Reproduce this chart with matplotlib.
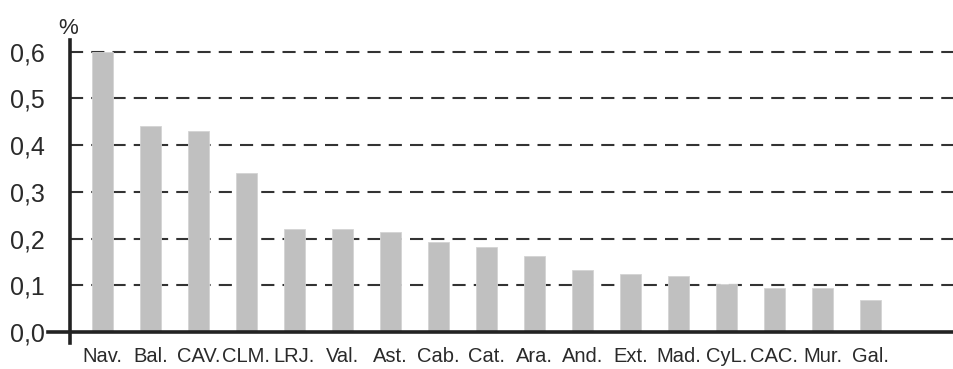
import numpy as np
import matplotlib
matplotlib.use('Agg')
import matplotlib.pyplot as plt

plt.rcParams['font.family'] = ['Liberation Sans', 'DejaVu Sans']

regions = ['Nav.', 'Bal.', 'CAV.', 'CLM.', 'LRJ.', 'Val.', 'Ast.', 'Cab.', 'Cat.',
           'Ara.', 'And.', 'Ext.', 'Mad.', 'CyL.', 'CAC.', 'Mur.', 'Gal.']
values = [0.60, 0.44, 0.43, 0.34, 0.22, 0.22, 0.215, 0.193, 0.181,
          0.163, 0.133, 0.125, 0.12, 0.103, 0.095, 0.095, 0.069]
yticks = [0.0, 0.1, 0.2, 0.3, 0.4, 0.5, 0.6]
ytick_labels = ['0,0', '0,1', '0,2', '0,3', '0,4', '0,5', '0,6']

txt = '#2a2a2a'

fig = plt.figure(figsize=(9.54, 3.69), dpi=100)
ax = fig.add_axes([70/954, 1-343/369, 884/954, 303/369])

x = np.arange(len(regions))
ax.bar(x, values, width=0.44, color='#c0c0c0', edgecolor='#d4d4d4', linewidth=0.6, zorder=3)

# dashed grid
for v in yticks[1:]:
    ax.axhline(v, color='#333333', linewidth=1.5, dashes=(6.3, 3.9), zorder=1)
# baseline sticks out a bit to the left
ax.axhline(0, xmin=-0.025, xmax=1, color='#222222', linewidth=2.6, clip_on=False, zorder=4)

ax.set_xlim(-0.677, 17.74)
ax.set_ylim(-0.0236, 0.625)

ax.set_yticks(yticks)
ax.set_yticklabels(ytick_labels)
ax.set_xticks(x)
ax.set_xticklabels(regions)
ax.tick_params(axis='y', length=0, pad=18, labelsize=18, labelcolor=txt)
ax.tick_params(axis='x', length=0, pad=3, labelsize=14.5, labelcolor=txt)

for s in ['top', 'right', 'bottom']:
    ax.spines[s].set_visible(False)
ax.spines['left'].set_linewidth(2.6)
ax.spines['left'].set_color('#222222')

fig.text(68/954, 1-28/369, '%', ha='center', va='center', fontsize=16, color=txt)

fig.savefig('out.png', dpi=100)
